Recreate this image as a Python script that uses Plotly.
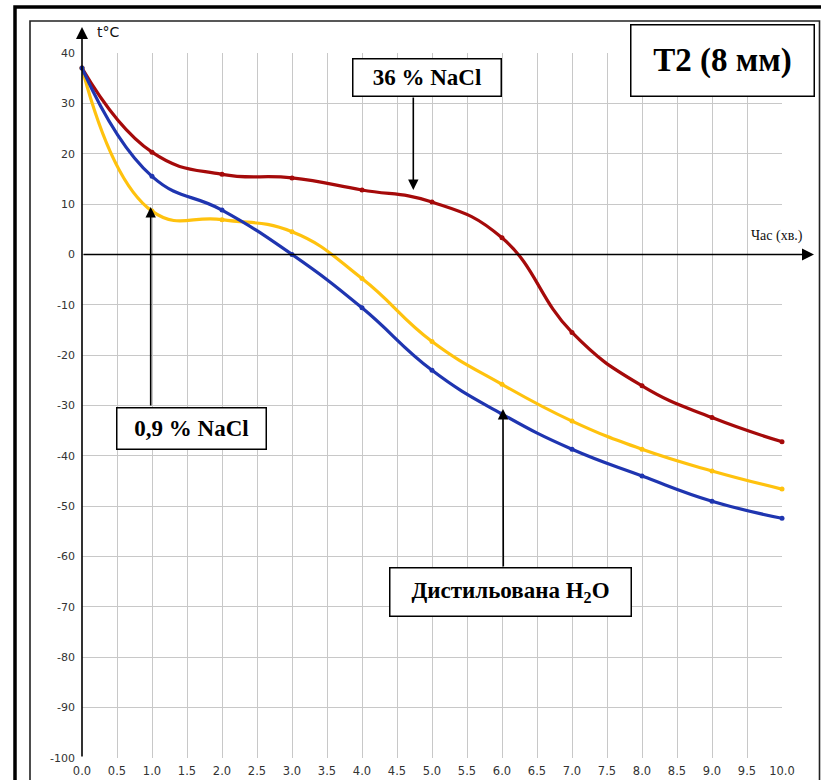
import plotly.graph_objects as go

# ---- data ----
time_min = [0, 1, 2, 3, 4, 5, 6, 7, 8, 9, 10]
nacl_36 = [37, 20.3, 15.9, 15.2, 12.8, 10.4, 3.3, -15.5, -26.1, -32.4, -37.2]
nacl_09 = [37, 8.6, 6.9, 4.5, -4.8, -17.3, -25.8, -33.1, -38.7, -43.0, -46.6]
water = [37, 15.5, 8.8, 0.0, -10.6, -23.0, -31.7, -38.7, -44.0, -49.0, -52.4]

x_ticks = [i * 0.5 for i in range(21)]
x_labels = ["%.1f" % v for v in x_ticks]
y_ticks = list(range(-100, 41, 10))
y_labels = [str(v) for v in y_ticks]

series_names = ["36 % NaCl", "0,9 % NaCl", "Дистильована H2O"]
series_colors = ["#A50A0A", "#FFC20E", "#1F35B0"]

# ---- geometry helpers (page pixels -> paper); body margin removed by post_script ----
W, H = 821, 780
L, T = 82, 53
R = W - 782
B = H - 758
PW, PH = W - L - R, H - T - B


def px(x):
    return (x - L) / PW


def py(y):
    return (H - B - y) / PH


fig = go.Figure()
for name, ys, col in zip(series_names, [nacl_36, nacl_09, water], series_colors):
    fig.add_trace(go.Scatter(
        x=time_min, y=ys, name=name, mode="lines+markers",
        line=dict(color=col, width=3.2, shape="spline", smoothing=1.3),
        marker=dict(color=col, size=5),
        showlegend=False, cliponaxis=False, hoverinfo="skip",
    ))

shapes = [
    # outer thick frame
    dict(type="rect", xref="paper", yref="paper",
         x0=px(15), x1=px(840), y0=py(820), y1=py(7),
         line=dict(color="black", width=3.5), layer="above"),
    # inner thin frame
    dict(type="rect", xref="paper", yref="paper",
         x0=px(30), x1=px(819.5), y0=py(820), y1=py(21),
         line=dict(color="#222", width=1.6), layer="above"),
]

annotations = []
# axis arrows
annotations.append(dict(x=0, y=py(27), xref="x", yref="paper", text="",
                        showarrow=True, ax=0, ay=758 - 27,
                        arrowhead=2, arrowsize=1.5, arrowwidth=1.6, arrowcolor="black"))
annotations.append(dict(x=px(814), y=0, xref="paper", yref="y", text="",
                        showarrow=True, ax=-(814 - 82), ay=0,
                        arrowhead=2, arrowsize=1.5, arrowwidth=1.6, arrowcolor="black"))
# axis titles
annotations.append(dict(x=px(95), y=py(32), xref="paper", yref="paper", text="t°C",
                        showarrow=False, xanchor="left", yanchor="middle",
                        font=dict(family="DejaVu Sans", size=14, color="#111")))
annotations.append(dict(x=px(805), y=py(236), xref="paper", yref="paper", text="Час (хв.)",
                        showarrow=False, xanchor="right", yanchor="middle",
                        font=dict(family="Liberation Serif", size=14, color="#111")))


def box(cx, cy, w, h, text, size=23):
    annotations.append(dict(x=px(cx), y=py(cy), xref="paper", yref="paper",
                            text="<b>" + text + "</b>", showarrow=False,
                            xanchor="center", yanchor="middle",
                            width=w, height=h, borderpad=0,
                            bgcolor="white", bordercolor="black", borderwidth=1.5,
                            font=dict(family="Liberation Serif", size=size, color="black")))


def arrow(tx, ty, sx, sy):
    # tip at (tx,ty) page px, start at (sx,sy) page px
    annotations.append(dict(x=px(tx), y=py(ty), xref="paper", yref="paper", text="",
                            showarrow=True, ax=sx - tx, ay=sy - ty,
                            arrowhead=2, arrowsize=1.3, arrowwidth=1.6, arrowcolor="black"))


arrow(413.3, 190, 413.3, 96)
arrow(150.7, 207, 150.7, 407)
arrow(503, 409, 503.3, 568)

box(427.3, 77, 147, 36, "36 % NaCl")
box(191.7, 428, 148, 40, "0,9 % NaCl")
box(510, 592, 240, 47, "Дистильована H<sub>2</sub>O")
box(722, 60, 182, 70, "T2 (8 мм)", size=33)

fig.update_layout(
    width=W, height=H,
    margin=dict(l=L, r=R, t=T, b=B, autoexpand=False),
    paper_bgcolor="white", plot_bgcolor="white",
    shapes=shapes, annotations=annotations,
    xaxis=dict(range=[0, 10], tickvals=x_ticks, ticktext=x_labels,
               showgrid=True, gridcolor="#C8C8C8", gridwidth=1,
               zeroline=False, showline=False, ticks="",
               ticklabelstandoff=4,
               tickfont=dict(family="DejaVu Sans", size=11.5, color="#333"),
               fixedrange=True),
    yaxis=dict(range=[-100, 40], tickvals=y_ticks, ticktext=y_labels,
               showgrid=True, gridcolor="#C8C8C8", gridwidth=1,
               zeroline=False, showline=False, ticks="",
               ticklabelstandoff=6,
               tickfont=dict(family="DejaVu Sans", size=11, color="#333"),
               fixedrange=True),
)

fig.write_html("out.html", config={"displayModeBar": False},
               post_script="document.body.style.margin='0';document.body.style.overflow='hidden';")
